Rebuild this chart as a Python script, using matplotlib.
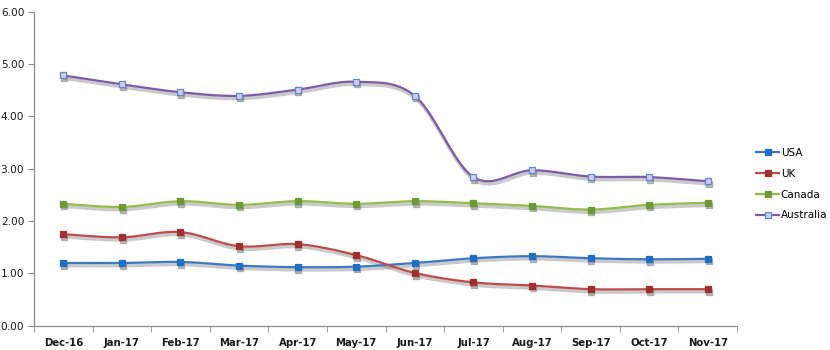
import numpy as np
import matplotlib
matplotlib.use("Agg")
import matplotlib.pyplot as plt
import matplotlib.transforms as mtransforms
from matplotlib.lines import Line2D

months = ["Dec-16", "Jan-17", "Feb-17", "Mar-17", "Apr-17", "May-17",
          "Jun-17", "Jul-17", "Aug-17", "Sep-17", "Oct-17", "Nov-17"]

usa = [1.20, 1.20, 1.22, 1.15, 1.12, 1.13, 1.20, 1.29, 1.33, 1.29, 1.27, 1.28]
uk = [1.75, 1.69, 1.79, 1.52, 1.56, 1.35, 1.01, 0.83, 0.77, 0.70, 0.70, 0.70]
canada = [2.33, 2.27, 2.38, 2.31, 2.38, 2.33, 2.38, 2.34, 2.29, 2.22, 2.31, 2.35]
australia = [4.78, 4.61, 4.46, 4.39, 4.51, 4.66, 4.39, 2.84, 2.97, 2.85, 2.84, 2.76]

series = [
    ("USA", usa, "#3C78C3", "#1F6FC5", "#1F6FC5"),
    ("UK", uk, "#BE4B48", "#A0302D", "#A0302D"),
    ("Canada", canada, "#92BD4A", "#6E9A35", "#6E9A35"),
    ("Australia", australia, "#7D5BA6", "#D9C8E8", "#5B8BD0"),
]


def smooth(x, y, n=20):
    # cubic bezier through the points, tangents like a catmull-rom spline
    x = np.asarray(x, float)
    y = np.asarray(y, float)
    px = np.concatenate([[x[0]], x, [x[-1]]])
    py = np.concatenate([[y[0]], y, [y[-1]]])
    xs, ys = [], []
    t = np.linspace(0, 1, n)
    for i in range(1, len(px) - 2):
        p0 = np.array([px[i], py[i]])
        p3 = np.array([px[i + 1], py[i + 1]])
        p1 = p0 + (np.array([px[i + 1], py[i + 1]]) - np.array([px[i - 1], py[i - 1]])) / 6
        p2 = p3 - (np.array([px[i + 2], py[i + 2]]) - np.array([px[i], py[i]])) / 6
        b = ((1 - t) ** 3)[:, None] * p0 + (3 * (1 - t) ** 2 * t)[:, None] * p1 \
            + (3 * (1 - t) * t ** 2)[:, None] * p2 + (t ** 3)[:, None] * p3
        xs.extend(b[:, 0])
        ys.extend(b[:, 1])
    return np.array(xs), np.array(ys)


fig = plt.figure(figsize=(8.3, 3.5), dpi=100)
ax = fig.add_axes([0.041, 0.069, 0.847, 0.898])

x = np.arange(len(months))
# soft drop shadow: same data, shifted a few pixels down
shadow_tr = mtransforms.offset_copy(ax.transData, fig=fig, x=0.8, y=-2.6, units="dots")

handles = []
for name, vals, lc, mfc, mec in series:
    sx, sy = smooth(x, vals)
    ax.plot(sx, sy, color="#8A8A8A", lw=2.6, alpha=0.45, transform=shadow_tr,
            zorder=1, solid_capstyle="round")
    ax.plot(x, vals, ls="none", marker="s", ms=5, mfc="#7A7A7A", mec="#7A7A7A",
            alpha=0.5, transform=shadow_tr, zorder=1)
    ax.plot(sx, sy, color=lc, lw=1.6, zorder=2, solid_capstyle="round")
    ax.plot(x, vals, ls="none", marker="s", ms=4.2, mfc=mfc, mec=mec, mew=0.9,
            zorder=3)
    handles.append(Line2D([], [], color=lc, lw=1.6, marker="s", ms=4.2,
                          mfc=mfc, mec=mec, mew=0.9, label=name))

ax.set_xlim(-0.5, len(months) - 0.5)
ax.set_ylim(0, 6)
ax.set_yticks(np.arange(0, 6.01, 1))
ax.set_yticklabels(["%.2f" % v for v in np.arange(0, 6.01, 1)])
ax.set_xticks(x)
ax.set_xticklabels(months)
ax.set_xticks(np.arange(-0.5, len(months), 1), minor=True)

for s in ["top", "right"]:
    ax.spines[s].set_visible(False)
for s in ["left", "bottom"]:
    ax.spines[s].set_color("#8C8C8C")
    ax.spines[s].set_linewidth(0.9)

ax.tick_params(axis="x", which="major", length=0, pad=9, labelsize=7.3,
               labelcolor="#1A1A1A")
ax.tick_params(axis="x", which="minor", length=4, color="#8C8C8C", direction="out")
ax.tick_params(axis="y", length=4, color="#8C8C8C", direction="out", pad=3,
               labelsize=7.6, labelcolor="#1A1A1A")
for lbl in ax.get_xticklabels():
    lbl.set_fontweight("bold")

fig.legend(handles=handles, loc="upper left", bbox_to_anchor=(0.9, 0.605),
           frameon=False, fontsize=7.5, handlelength=2.2, handletextpad=0.15,
           labelspacing=1.05)

fig.savefig("out.png", dpi=100)
